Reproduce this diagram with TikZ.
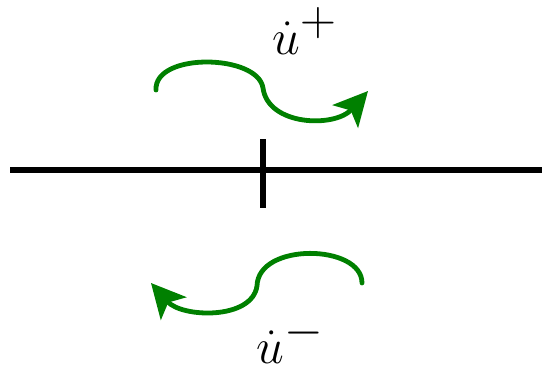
\documentclass[tikz,border=0pt]{standalone}
\usepackage{amsmath}
\usepackage{tikz}
\usetikzlibrary{arrows.meta,positioning}
\definecolor{flow}{HTML}{008000}

\begin{document}
\begin{tikzpicture}[x=0.5pt, y=-0.5pt,
  axis/.style={line width=2.6pt, black},
  swirl/.style={line width=2.4pt, flow, line cap=round,
                -{Stealth[length=17pt, width=17pt, inset=4pt]}},
  rate/.style={font=\fontsize{34}{38}\selectfont, inner sep=0pt},
]
  \useasboundingbox (0,0) rectangle (542,366);
  % axis with the tick
  \coordinate (axisL) at (10,170);
  \coordinate (axisR) at (542,170);
  \coordinate (tickT) at (263,139);
  \coordinate (tickB) at (263,208);
  \draw[axis] (axisL) -- (axisR);
  \draw[axis] (tickT) -- (tickB);
  % upper flow
  \coordinate (upS) at (156,90);
  \coordinate (upM) at (263,88);
  \coordinate (upE) at (368,91);
  \draw[swirl] (upS) .. controls (154,52) and (258,54) .. (upM)
    .. controls (268,126) and (335,128) .. (upE);
  \node[rate] (uplus) at (305,31) {$\dot{u}^{+}$};
  % lower flow
  \coordinate (loS) at (362,283);
  \coordinate (loM) at (257,286);
  \coordinate (loE) at (151,283);
  \draw[swirl] (loS) .. controls (362,244) and (258,242) .. (loM)
    .. controls (252,320) and (182,318) .. (loE);
  \node[rate] (uminus) at (290,340) {$\dot{u}^{-}$};
\end{tikzpicture}
\end{document}
